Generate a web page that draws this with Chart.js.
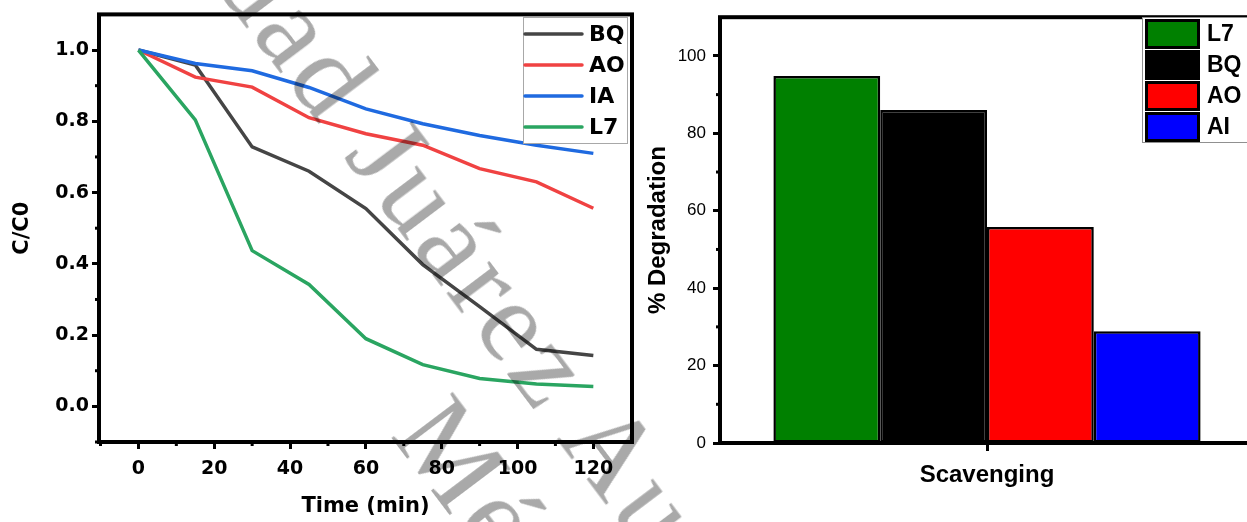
<!DOCTYPE html>
<html>
<head>
<meta charset="utf-8">
<script src="https://cdn.jsdelivr.net/npm/chart.js@4.4.0/dist/chart.umd.min.js"></script>
<style>
  html, body { margin: 0; padding: 0; background: #fff; overflow: hidden; width: 1247px; height: 522px; }
  #wrap { position: relative; width: 1247px; height: 522px; overflow: hidden; background: #fff; }
  #kinetics { position: absolute; left: 0; top: 0; }
  #scavenger { position: absolute; left: 640px; top: 0; }
  .wm { position: absolute; transform-origin: 0 0; white-space: nowrap; font-family: 'Liberation Serif', serif;
        font-size: 116px; letter-spacing: 5px; line-height: 1; color: #a9a9a9; mix-blend-mode: multiply; pointer-events: none; }
</style>
</head>
<body>
<div id="wrap">
  <canvas id="kinetics" width="640" height="522"></canvas>
  <canvas id="scavenger" width="620" height="522"></canvas>
  <div class="wm" id="wm1" style="left:290px;top:-75px;transform:rotate(53deg)">dad Juárez Au</div>
  <div class="wm" id="wm2" style="left:467px;top:377px;transform:rotate(53deg)">Mé</div>
</div>
<script>
// ---- kinetics (C/C0 vs time) ----
const timeMin = [0, 15, 30, 45, 60, 75, 90, 105, 120];
const bqRatio = [1.0, 0.958, 0.728, 0.660, 0.555, 0.398, 0.280, 0.160, 0.143];
const aoRatio = [1.0, 0.924, 0.896, 0.810, 0.765, 0.733, 0.667, 0.630, 0.556];
const iaRatio = [1.0, 0.962, 0.942, 0.895, 0.835, 0.793, 0.760, 0.733, 0.710];
const l7Ratio = [1.0, 0.804, 0.437, 0.342, 0.190, 0.117, 0.078, 0.063, 0.056];
const lineNames = ['BQ', 'AO', 'IA', 'L7'];
const lineColors = ['#454545', '#f04242', '#1f6ae0', '#2aa561'];
const timeTicks = [0, 20, 40, 60, 80, 100, 120];
const timeMinorTicks = [-10, 10, 30, 50, 70, 90, 110];
const ratioTicks = [0.0, 0.2, 0.4, 0.6, 0.8, 1.0];
const ratioMinorTicks = [-0.1, 0.1, 0.3, 0.5, 0.7, 0.9];

// ---- scavenger test (% degradation) ----
const scavCategories = ['Scavenging'];
const scavNames = ['L7', 'BQ', 'AO', 'AI'];
const scavValues = [94.8, 86.0, 55.8, 28.9];
const scavColors = ['#008000', '#000000', '#ff0000', '#0000ff'];
const degTicks = [0, 20, 40, 60, 80, 100];
const degMinorTicks = [10, 30, 50, 70, 90];

Chart.defaults.color = '#000';
Chart.defaults.animation = false;

const boldDejaVu = (size) => ({ family: 'DejaVu Sans', weight: 'bold', size: size });

// square frame around the plotting area
const framePlugin = {
  id: 'frame',
  afterDatasetsDraw(chart, args, opts) {
    const { ctx, chartArea: a } = chart;
    ctx.save();
    ctx.strokeStyle = '#000';
    ctx.lineWidth = opts.width || 4;
    ctx.strokeRect(a.left, a.top, a.right - a.left, a.bottom - a.top);
    ctx.restore();
  }
};

// short minor tick marks between the labelled ticks
const minorTickPlugin = {
  id: 'minorTicks',
  afterDatasetsDraw(chart, args, opts) {
    const { ctx, chartArea: a } = chart;
    ctx.save();
    ctx.strokeStyle = '#000';
    ctx.lineWidth = 3;
    const len = opts.length || 4;
    (opts.x || []).forEach(v => {
      const px = chart.scales.x.getPixelForValue(v);
      ctx.beginPath(); ctx.moveTo(px, a.bottom); ctx.lineTo(px, a.bottom + len); ctx.stroke();
    });
    (opts.y || []).forEach(v => {
      const py = chart.scales.y.getPixelForValue(v);
      ctx.beginPath(); ctx.moveTo(a.left, py); ctx.lineTo(a.left - len, py); ctx.stroke();
    });
    ctx.restore();
  }
};

// legend for the kinetic curves: line sample + name
const lineLegendPlugin = {
  id: 'lineLegend',
  afterDraw(chart) {
    const ctx = chart.ctx;
    const box = { x: 523, y: 17, w: 104, h: 126 };
    ctx.save();
    ctx.fillStyle = '#fff';
    ctx.fillRect(box.x, box.y, box.w, box.h);
    ctx.strokeStyle = '#a8a8a8';
    ctx.lineWidth = 1;
    ctx.strokeRect(box.x + 0.5, box.y + 0.5, box.w, box.h);
    ctx.font = 'bold 22px "DejaVu Sans"';
    ctx.textBaseline = 'middle';
    ctx.textAlign = 'left';
    chart.data.datasets.forEach((ds, i) => {
      const cy = 34 + i * 31;
      ctx.strokeStyle = ds.borderColor;
      ctx.lineWidth = 3.5;
      ctx.lineCap = 'round';
      ctx.beginPath(); ctx.moveTo(525, cy); ctx.lineTo(582, cy); ctx.stroke();
      ctx.fillStyle = '#000';
      ctx.fillText(ds.label, 589, cy + 1);
    });
    ctx.restore();
  }
};

// legend for the bars: boxed colour swatch + name
const barLegendPlugin = {
  id: 'barLegend',
  afterDraw(chart) {
    const ctx = chart.ctx;
    ctx.save();
    ctx.fillStyle = '#fff';
    ctx.fillRect(502, 17, 118, 126);
    ctx.strokeStyle = '#909090';
    ctx.lineWidth = 1;
    ctx.strokeRect(502.5, 17.5, 130, 125);
    ctx.font = 'bold 23px "Liberation Sans"';
    ctx.textBaseline = 'middle';
    ctx.textAlign = 'left';
    chart.data.datasets.forEach((ds, i) => {
      const top = 19 + i * 31;
      ctx.fillStyle = ds.backgroundColor;
      ctx.fillRect(505, top, 55, 30);
      ctx.strokeStyle = '#000';
      ctx.lineWidth = 3;
      ctx.strokeRect(506.5, top + 1.5, 52, 27);
      ctx.fillStyle = '#000';
      ctx.fillText(ds.label, 567, top + 16);
    });
    ctx.restore();
  }
};

const lineOrder = [3, 2, 1, 0];
const lineSeries = [bqRatio, aoRatio, iaRatio, l7Ratio];

new Chart(document.getElementById('kinetics'), {
  type: 'line',
  data: {
    datasets: lineNames.map((name, i) => ({
      label: name,
      data: timeMin.map((t, k) => ({ x: t, y: lineSeries[i][k] })),
      borderColor: lineColors[i],
      borderWidth: 3.5,
      pointRadius: 0,
      tension: 0,
      fill: false,
      order: lineOrder[i]
    }))
  },
  options: {
    responsive: false,
    devicePixelRatio: 1,
    layout: { padding: { left: 0, top: 13, right: 8, bottom: 0 } },
    plugins: {
      legend: { display: false },
      tooltip: { enabled: false },
      frame: { width: 4 },
      minorTicks: { x: timeMinorTicks, y: ratioMinorTicks, length: 4 }
    },
    scales: {
      x: {
        type: 'linear',
        min: -10.4,
        max: 130.2,
        afterBuildTicks: (s) => { s.ticks = timeTicks.map(v => ({ value: v })); },
        afterFit: (s) => { s.height = 80; },
        grid: { display: true, drawOnChartArea: false, drawTicks: true, tickLength: 7, tickWidth: 3, tickColor: '#000' },
        border: { display: false },
        ticks: { font: boldDejaVu(19), padding: 9, maxRotation: 0, callback: (v) => String(v) },
        title: { display: true, text: 'Time (min)', font: boldDejaVu(21), padding: { top: 0, bottom: 3 } }
      },
      y: {
        type: 'linear',
        min: -0.1,
        max: 1.1,
        afterBuildTicks: (s) => { s.ticks = ratioTicks.map(v => ({ value: v })); },
        afterFit: (s) => { s.width = 99; },
        grid: { display: true, drawOnChartArea: false, drawTicks: true, tickLength: 7, tickWidth: 3, tickColor: '#000' },
        border: { display: false },
        ticks: { font: boldDejaVu(19), padding: 3, callback: (v) => Number(v).toFixed(1) },
        title: { display: true, text: 'C/C0', font: boldDejaVu(21), padding: { top: 10, bottom: 0 } }
      }
    }
  },
  plugins: [framePlugin, minorTickPlugin, lineLegendPlugin]
});

new Chart(document.getElementById('scavenger'), {
  type: 'bar',
  data: {
    labels: scavCategories,
    datasets: scavNames.map((name, i) => ({
      label: name,
      data: [scavValues[i]],
      backgroundColor: scavColors[i],
      borderColor: '#000',
      borderWidth: 2.5,
      borderSkipped: false,
      categoryPercentage: 0.8,
      barPercentage: 1.0
    }))
  },
  options: {
    responsive: false,
    devicePixelRatio: 1,
    layout: { padding: { left: 0, top: 13, right: 6, bottom: 0 } },
    plugins: {
      legend: { display: false },
      tooltip: { enabled: false },
      frame: { width: 4 },
      minorTicks: { x: [], y: degMinorTicks, length: 4 }
    },
    scales: {
      x: {
        type: 'category',
        afterFit: (s) => { s.height = 79; },
        grid: { display: true, offset: false, drawOnChartArea: false, drawTicks: true, tickLength: 8, tickWidth: 3, tickColor: '#000' },
        border: { display: false },
        ticks: { callback: () => '' },
        title: { display: true, text: 'Scavenging', font: { family: 'Liberation Sans', weight: 'bold', size: 24 }, padding: { top: 0, bottom: 32 } }
      },
      y: {
        type: 'linear',
        min: 0,
        max: 110,
        afterBuildTicks: (s) => { s.ticks = degTicks.map(v => ({ value: v })); },
        afterFit: (s) => { s.width = 80; },
        grid: { display: true, drawOnChartArea: false, drawTicks: true, tickLength: 7, tickWidth: 3, tickColor: '#000' },
        border: { display: false },
        ticks: { font: { family: 'Liberation Sans', size: 17 }, padding: 7 },
        title: { display: true, text: '% Degradation', font: { family: 'Liberation Sans', weight: 'bold', size: 24 }, padding: { top: 4, bottom: 0 } }
      }
    }
  },
  plugins: [framePlugin, minorTickPlugin, barLegendPlugin]
});
</script>
</body>
</html>
